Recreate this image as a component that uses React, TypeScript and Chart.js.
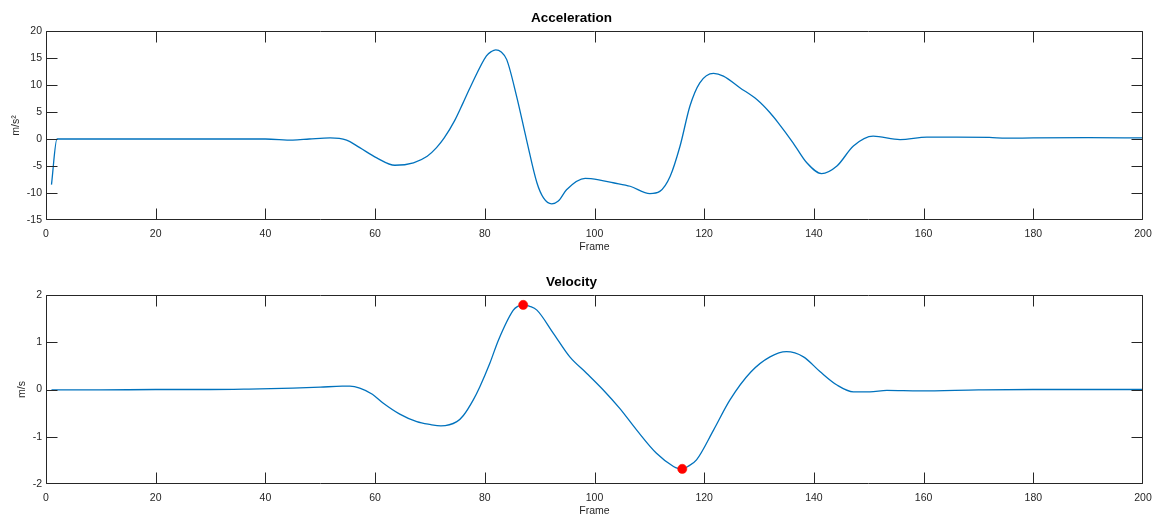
import React, { useEffect, useRef } from 'react';
import { Chart, registerables } from 'chart.js';

Chart.register(...registerables);

// ---------- data ----------
const accFrames = [1, 2, 10, 20, 30, 40, 45, 48, 51.8, 54.8, 57.2, 60.3, 63.6, 67, 69.5, 71.2, 72.6, 74.5, 76, 77.5, 80.3, 81.2, 82, 83, 84, 85.8, 87.6, 89.5, 90.7, 92.2, 93.4, 94.9, 98.3, 101, 103.4, 106.5, 110.1, 111.9, 113.8, 115.6, 117.4, 119.2, 121.7, 123.5, 126.5, 129.6, 132, 133.5, 136.2, 138.7, 141.4, 144.2, 147.2, 150.8, 155.7, 160.6, 166, 172, 175, 180, 190, 200];
const accValues = [-8.44, 0, 0, 0, 0, 0, -0.2, 0, 0.22, -0.2, -1.6, -3.5, -4.86, -4.4, -3.2, -1.6, 0.2, 3.4, 6.6, 9.9, 15.4, 16.2, 16.5, 16.1, 14.7, 7.9, -0.1, -8.1, -10.9, -12.0, -11.5, -9.4, -7.3, -7.6, -8.1, -8.75, -10.1, -9.7, -6.9, -1.3, 6.1, 10.4, 12.15, 11.65, 9.5, 7.3, 4.86, 3.0, -0.7, -4.4, -6.4, -5.0, -1.3, 0.52, -0.1, 0.34, 0.34, 0.3, 0.15, 0.2, 0.25, 0.2];

const velFrames = [1, 10, 20, 30, 37, 45, 50, 54, 55.4, 57.2, 59.5, 61.5, 64.5, 67.6, 70, 72, 74.9, 76.1, 77.9, 79.1, 80.9, 82.5, 85.2, 86, 87, 88.2, 89.5, 92.5, 95.5, 98.6, 101.6, 104.6, 107.7, 111.3, 114.4, 115.2, 116, 117, 118.6, 121.7, 124.7, 128.5, 132, 135, 138.1, 141.1, 144.2, 147.2, 150.2, 153.3, 159.3, 170, 180, 190, 200];
const velValues = [-0.01, -0.01, 0, 0, 0.01, 0.03, 0.05, 0.07, 0.07, 0.03, -0.1, -0.29, -0.52, -0.68, -0.74, -0.77, -0.68, -0.55, -0.22, 0.06, 0.55, 1.05, 1.68, 1.76, 1.79, 1.76, 1.68, 1.19, 0.69, 0.34, -0.01, -0.4, -0.86, -1.35, -1.63, -1.67, -1.68, -1.63, -1.49, -0.86, -0.22, 0.37, 0.69, 0.8, 0.69, 0.38, 0.095, -0.05, -0.05, -0.02, -0.03, -0.01, 0, 0, 0];

const peakFrames = [87, 116];
const peakValues = [1.79, -1.68];

const xTickValues = [0, 20, 40, 60, 80, 100, 120, 140, 160, 180, 200];
const accTickValues = [-15, -10, -5, 0, 5, 10, 15, 20];
const velTickValues = [-2, -1, 0, 1, 2];

// ---------- style ----------
const FONT = '"Liberation Sans", Arial, Helvetica, sans-serif';
const AXIS = '#262626';
const LINE = '#0072BD';
const TICK_LEN = 11;

const boxPlugin = {
  id: 'matlabBox',
  afterDatasetsDraw(chart: any) {
    const { ctx, chartArea } = chart;
    const { left, right, top, bottom } = chartArea;
    const xs = chart.scales.x;
    const ys = chart.scales.y;
    ctx.save();
    ctx.strokeStyle = AXIS;
    ctx.lineWidth = 1;
    ctx.beginPath();
    const L = Math.round(left) + 0.5;
    const R = Math.round(right) - 0.5;
    const T = Math.round(top) + 0.5;
    const B = Math.round(bottom) - 0.5;
    ctx.rect(L, T, R - L, B - T);
    xs.ticks.forEach((t: any) => {
      const px = Math.min(R, Math.round(xs.getPixelForValue(t.value)) + 0.5);
      ctx.moveTo(px, B);
      ctx.lineTo(px, B - TICK_LEN);
      ctx.moveTo(px, T);
      ctx.lineTo(px, T + TICK_LEN);
    });
    ys.ticks.forEach((t: any) => {
      const py = Math.min(B, Math.round(ys.getPixelForValue(t.value)) + 0.5);
      ctx.moveTo(L, py);
      ctx.lineTo(L + TICK_LEN, py);
      ctx.moveTo(R, py);
      ctx.lineTo(R - TICK_LEN, py);
    });
    ctx.stroke();
    ctx.restore();
  },
};

function makeConfig(opts: {
  title: string;
  yLabel: string;
  frames: number[];
  values: number[];
  yTicks: number[];
  xAxisHeight: number;
  frameTitlePad: number;
  yTitlePad: number;
  peaks?: { frames: number[]; values: number[] };
}): any {
  const datasets: any[] = [];
  if (opts.peaks) {
    datasets.push({
      data: opts.peaks.frames.map((f, i) => ({ x: f, y: opts.peaks!.values[i] })),
      showLine: false,
      pointRadius: 4.6,
      pointBackgroundColor: '#ff0000',
      pointBorderColor: '#ff1a00',
      pointBorderWidth: 0.6,
      order: 0,
    });
  }
  datasets.push({
    data: opts.frames.map((f, i) => ({ x: f, y: opts.values[i] })),
    borderColor: LINE,
    borderWidth: 1.3,
    pointRadius: 0,
    fill: false,
    cubicInterpolationMode: 'monotone',
    order: 1,
  });
  const yMin = opts.yTicks[0];
  const yMax = opts.yTicks[opts.yTicks.length - 1];
  return {
    type: 'line',
    data: { datasets },
    plugins: [boxPlugin],
    options: {
      animation: false,
      responsive: false,
      events: [],
      layout: { padding: { left: 0, right: 10, top: 0, bottom: 0 } },
      plugins: {
        legend: { display: false },
        tooltip: { enabled: false },
        title: {
          display: true,
          text: opts.title,
          color: '#000',
          font: { family: FONT, size: 13.5, weight: 'bold', lineHeight: 1.2 },
          padding: { top: 10, bottom: 31 - 10 - 13.5 * 1.2 },
        },
      },
      scales: {
        x: {
          type: 'linear',
          min: 0,
          max: 200,
          afterBuildTicks: (s: any) => {
            s.ticks = xTickValues.map((v) => ({ value: v }));
          },
          afterFit: (s: any) => {
            s.height = opts.xAxisHeight;
            s.paddingLeft = 0;
            s.paddingRight = 0;
          },
          grid: { display: false, drawTicks: false },
          border: { display: false },
          ticks: {
            color: AXIS,
            padding: 8,
            maxRotation: 0,
            autoSkip: false,
            font: { family: FONT, size: 10.5 },
          },
          title: {
            display: true,
            text: 'Frame',
            color: AXIS,
            font: { family: FONT, size: 10.5, lineHeight: 1.2 },
            padding: { top: 0, bottom: opts.frameTitlePad },
          },
        },
        y: {
          type: 'linear',
          min: yMin,
          max: yMax,
          afterBuildTicks: (s: any) => {
            s.ticks = opts.yTicks.map((v) => ({ value: v }));
          },
          afterFit: (s: any) => {
            s.width = 46;
            s.paddingTop = 0;
            s.paddingBottom = 0;
          },
          grid: { display: false, drawTicks: false },
          border: { display: false },
          ticks: {
            color: AXIS,
            padding: 4,
            autoSkip: false,
            font: { family: FONT, size: 10.5 },
          },
          title: {
            display: true,
            text: opts.yLabel,
            color: AXIS,
            font: { family: FONT, size: 10.5, lineHeight: 1.2 },
            padding: { top: opts.yTitlePad, bottom: 0 },
          },
        },
      },
    },
  };
}

function Panel(props: { config: any; width: number; height: number; top: number }) {
  const ref = useRef<HTMLCanvasElement | null>(null);
  useEffect(() => {
    if (!ref.current) return;
    const chart = new Chart(ref.current, props.config);
    return () => chart.destroy();
  }, []);
  return (
    <canvas
      ref={ref}
      width={props.width}
      height={props.height}
      style={{ position: 'absolute', left: 0, top: props.top, width: props.width, height: props.height }}
    />
  );
}

export default function App() {
  const accConfig = makeConfig({
    title: 'Acceleration',
    yLabel: 'm/s²',
    frames: accFrames,
    values: accValues,
    yTicks: accTickValues,
    xAxisHeight: 40,
    frameTitlePad: 6.2,
    yTitlePad: 9.5,
  });
  const velConfig = makeConfig({
    title: 'Velocity',
    yLabel: 'm/s',
    frames: velFrames,
    values: velValues,
    yTicks: velTickValues,
    xAxisHeight: 35,
    frameTitlePad: 1.2,
    yTitlePad: 16,
    peaks: { frames: peakFrames, values: peakValues },
  });
  return (
    <div style={{ position: 'absolute', left: 0, top: 0, width: 1153, height: 519, background: '#fff', overflow: 'hidden' }}>
      <Panel config={accConfig} width={1153} height={260} top={0} />
      <Panel config={velConfig} width={1153} height={255} top={264} />
    </div>
  );
}
